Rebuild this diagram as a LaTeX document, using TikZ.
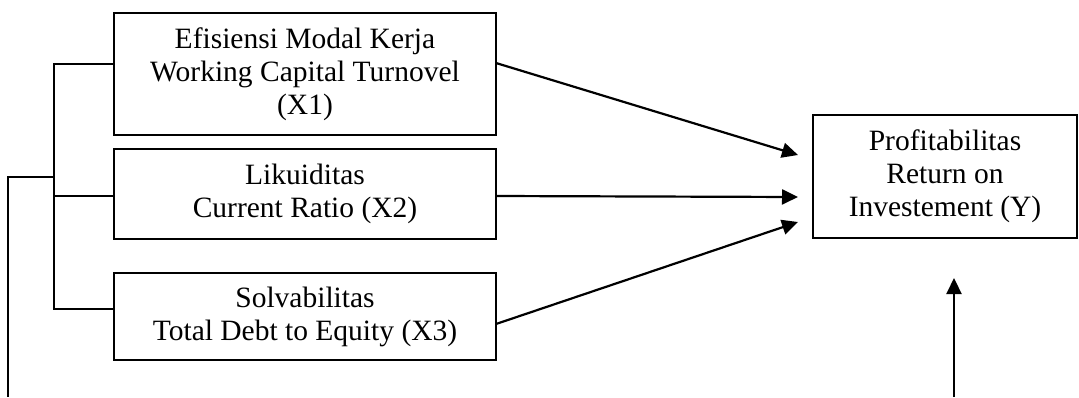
\documentclass[tikz,border=0pt]{standalone}
\usepackage{fontspec}
\setmainfont{Liberation Serif}
\usetikzlibrary{arrows.meta}
\tikzset{
  box/.style={draw, line width=1.8pt, align=center, inner sep=0pt,
    font=\fontsize{29.5}{33}\selectfont},
  conn/.style={line width=1.8pt},
  arr/.style={line width=2.2pt, -{Triangle[length=16pt,width=15pt]}}
}
\begin{document}
\begin{tikzpicture}[x=1pt,y=-1pt]
\useasboundingbox (0,0) rectangle (1079,397);
\node[box, minimum width=382pt, minimum height=122pt] (X1) at (305,74)
  {Efisiensi Modal Kerja\\Working Capital Turnovel\\(X1)};
\node[box, minimum width=382pt, minimum height=90pt] (X2) at (305,194)
  {Likuiditas\\Current Ratio (X2)};
\node[box, minimum width=382pt, minimum height=87pt] (X3) at (305,316.5)
  {Solvabilitas\\Total Debt to Equity (X3)};
\node[box, minimum width=264pt, minimum height=123pt] (Y) at (945,176.5)
  {Profitabilitas\\Return on\\Investement (Y)};
% bracket
\coordinate (b1) at (54,64);
\coordinate (b2) at (54,196);
\coordinate (b3) at (54,309);
\coordinate (o1) at (54,177);
\coordinate (o2) at (8,177);
\coordinate (o3) at (8,397);
\draw[conn] (b1 -| X1.west) -- (b1) -- (b3) -- (b3 -| X3.west);
\draw[conn] (b2) -- (b2 -| X2.west);
\draw[conn] (o1) -- (o2) -- (o3);
% arrows
\coordinate (s1) at (496,63);
\coordinate (s2) at (496,196);
\coordinate (s3) at (496,324);
\coordinate (t1) at (798,155);
\coordinate (t2) at (798,197);
\coordinate (t3) at (798,222);
\draw[arr] (s1) -- (t1);
\draw[arr] (s2) -- (t2);
\draw[arr] (s3) -- (t3);
\coordinate (u0) at (954,397);
\coordinate (u1) at (954,278);
\draw[arr] (u0) -- (u1);
\end{tikzpicture}
\end{document}
